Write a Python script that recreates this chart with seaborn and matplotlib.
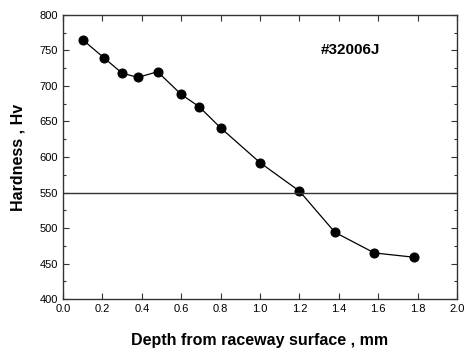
import numpy as np
import pandas as pd
import matplotlib
matplotlib.use('Agg')
import matplotlib.pyplot as plt
from matplotlib.ticker import MultipleLocator
import seaborn as sns

depth = [0.10, 0.21, 0.30, 0.38, 0.48, 0.60, 0.69, 0.80, 1.00, 1.20, 1.38, 1.58, 1.78]
hardness = [765, 739, 718, 712, 720, 688, 671, 641, 592, 552, 494, 465, 459]
limit = 550
sample = '#32006J'

df = pd.DataFrame({'Depth': depth, 'Hardness': hardness})

sns.set_theme(style='ticks')
plt.rcParams['font.family'] = ['Liberation Sans', 'DejaVu Sans']
plt.rcParams['text.color'] = 'black'
plt.rcParams['axes.labelcolor'] = 'black'
plt.rcParams['xtick.color'] = 'black'
plt.rcParams['ytick.color'] = 'black'

fig = plt.figure(figsize=(4.65, 3.54), dpi=100)
ax = fig.add_axes([0.1355, 0.155, 0.8475, 0.803])

sns.lineplot(x='Depth', y='Hardness', data=df, ax=ax, color='black',
             marker='o', markersize=6.5, markeredgecolor='black', linewidth=0.9)
ax.axhline(limit, color='#333333', linewidth=1.0)

ax.set_xlim(0, 2.0)
ax.set_ylim(400, 800)
ax.xaxis.set_major_locator(MultipleLocator(0.2))
ax.yaxis.set_major_locator(MultipleLocator(50))
ax.yaxis.set_minor_locator(MultipleLocator(25))
ax.xaxis.set_major_formatter(matplotlib.ticker.FormatStrFormatter('%.1f'))
ax.tick_params(axis='both', which='major', direction='in', length=4, width=0.8,
               labelsize=8, top=True, right=True, color='#333333', labelcolor='black')
ax.tick_params(axis='y', which='minor', direction='in', length=2.5, width=0.8,
               left=True, right=True, color='#333333')
for s in ax.spines.values():
    s.set_linewidth(1.0)
    s.set_color('#333333')

ax.set_xlabel('Depth from raceway surface , mm', fontsize=11.5, fontweight='bold', labelpad=14)
ax.set_ylabel('Hardness , Hv', fontsize=11.5, fontweight='bold', labelpad=10)
ax.text(1.46, 751, sample, fontsize=11, fontweight='bold', ha='center', va='center')

fig.savefig('out.png', dpi=100)
